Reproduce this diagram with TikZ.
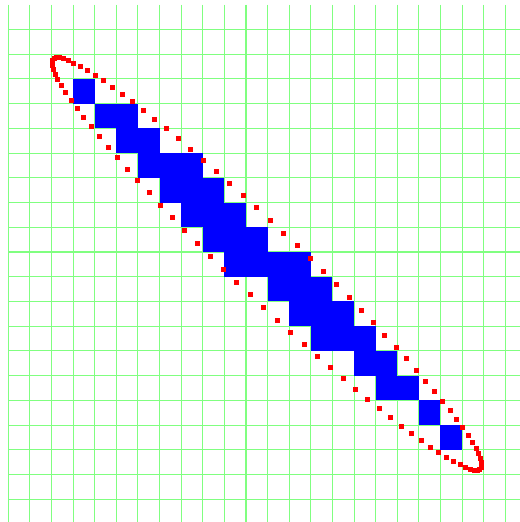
\documentclass[tikz,border=0pt]{standalone}
\usepackage{tikz}
\usetikzlibrary{calc}
\usepackage{xcolor}
\definecolor{gridcolor}{RGB}{128, 255, 128}
\definecolor{cellcolor}{RGB}{0, 0, 255}
\definecolor{dotcolor}{RGB}{255, 0, 0}

\begin{document}
\begin{tikzpicture}[x=0.02cm, y=-0.02cm,
    gridline/.style={draw=gridcolor, line width=0.6pt},
    cell/.style={fill=cellcolor},
    reddot/.style={fill=dotcolor}
]

\useasboundingbox (0,0) rectangle (520,522);

% Grid
\foreach \c in {0,...,23}
    \draw[gridline] (8.3+21.61*\c, 4.6) -- (8.3+21.61*\c, 522);
\foreach \r in {1,...,20}
    \draw[gridline] (8.3, 4.6+24.74*\r) -- (520, 4.6+24.74*\r);

% Filled cells (row/first column/last column)
\foreach \r/\a/\b in {3/3/3, 4/4/5, 5/5/6, 6/6/8, 7/7/9, 8/8/10, 9/9/11,
                      10/10/13, 11/12/14, 12/13/15, 13/14/16, 14/16/17,
                      15/17/18, 16/19/19, 17/20/20}
    \fill[cell] (8.3+21.61*\a, 4.6+24.74*\r) rectangle (8.3+21.61*\b+21.61, 4.6+24.74*\r+24.74);

% Ellipse samples
\foreach \k in {0,...,99}{
    \pgfmathsetmacro{\t}{1.8+3.6*\k}
    \pgfmathsetmacro{\px}{267+296*cos(\t)*0.7221+34*sin(\t)*0.6918}
    \pgfmathsetmacro{\py}{264+296*cos(\t)*0.6918-34*sin(\t)*0.7221}
    \fill[reddot] (\px-2.5, \py-2.5) rectangle ++(5,5);
}

\end{tikzpicture}
\end{document}
